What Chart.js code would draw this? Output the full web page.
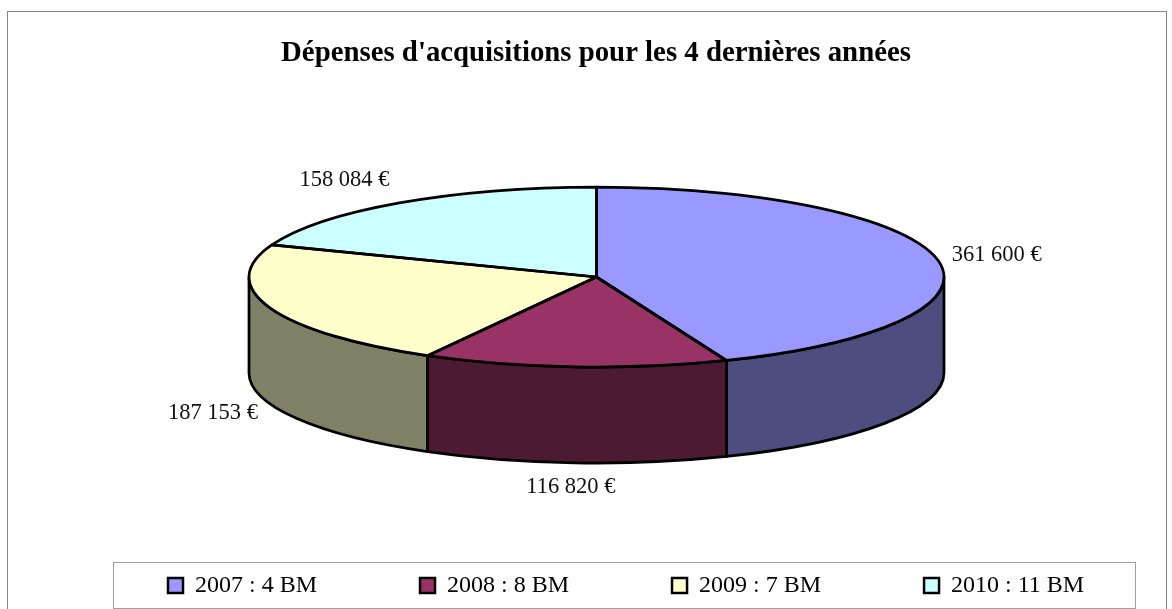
<!DOCTYPE html>
<html>
<head>
<meta charset="utf-8">
<title>Dépenses d'acquisitions</title>
<script src="https://cdn.jsdelivr.net/npm/chart.js@4"></script>
<style>
  html, body { margin: 0; padding: 0; background: #fff; }
  canvas { display: block; }
</style>
</head>
<body>
<canvas id="pie3d" width="1172" height="609"></canvas>
<script>
const chartTitle = "Dépenses d'acquisitions pour les 4 dernières années";
const categories = ["2007 : 4 BM", "2008 : 8 BM", "2009 : 7 BM", "2010 : 11 BM"];
const amounts = [361600, 116820, 187153, 158084];
const topColors = ["#9999FF", "#993366", "#FFFFCC", "#CCFFFF"];
const sideColors = ["#4D4D80", "#4D1A33", "#808066", "#668080"];
// label centre relative to the middle of the slice rim
const labelOffsets = [[59, -5], [-4, 24], [-57, 9], [-55, -23]];

const SERIF = "'Liberation Serif', serif";
const cx = 596.5, cy = 277, rx = 347.5, ry = 90, depth = 96;

const fmt = v => String(v).replace(/\B(?=(\d{3})+$)/g, " ") + " €";

const pie3d = {
  id: "pie3d",
  afterLayout(chart) {
    // the big padding only spreads the legend items, put the row in its box
    const lg = chart.legend, pad = lg.options.labels.padding;
    lg.left = 168 - pad;
    lg.right = chart.width + 200;
    lg.top = 588 - 14.4 - pad;
    chart.titleBlock.left += 10;
    chart.titleBlock.right += 10;
  },
  beforeDraw(chart) {
    const c = chart.ctx;
    c.save();
    c.fillStyle = "#fff";
    c.fillRect(0, 0, chart.width, chart.height);
    c.strokeStyle = "#868686";
    c.lineWidth = 1;
    c.strokeRect(7.5, 11.5, 1159, 640);
    c.strokeStyle = "#a0a0a0";
    c.strokeRect(113.5, 562.5, 1022, 46);
    c.restore();
  },
  beforeDatasetsDraw(chart) {
    // side wall, only the front half of the pie shows it
    const c = chart.ctx;
    c.save();
    c.lineWidth = 2.75;
    c.lineJoin = "round";
    c.strokeStyle = "#000";
    chart.getDatasetMeta(0).data.forEach((arc, i) => {
      const a0 = Math.max(arc.startAngle, 0), a1 = Math.min(arc.endAngle, Math.PI);
      if (a1 <= a0) return;
      c.beginPath();
      c.ellipse(cx, cy, rx, ry, 0, a0, a1);
      c.ellipse(cx, cy + depth, rx, ry, 0, a1, a0, true);
      c.closePath();
      c.fillStyle = sideColors[i];
      c.fill();
      c.stroke();
    });
    c.restore();
  },
  beforeDatasetDraw(chart) {
    // flatten the library's circle into the ellipse of the top face
    const c = chart.ctx, arc = chart.getDatasetMeta(0).data[0];
    c.save();
    c.translate(cx, cy);
    c.scale(rx / arc.outerRadius, ry / arc.outerRadius);
    c.translate(-arc.x, -arc.y);
  },
  afterDatasetDraw(chart) {
    const c = chart.ctx;
    c.restore();
    c.save();
    c.lineWidth = 2.75;
    c.lineJoin = "round";
    c.strokeStyle = "#000";
    chart.getDatasetMeta(0).data.forEach(arc => {
      c.beginPath();
      c.moveTo(cx, cy);
      c.ellipse(cx, cy, rx, ry, 0, arc.startAngle, arc.endAngle);
      c.closePath();
      c.stroke();
    });
    // value labels
    c.fillStyle = "#111";
    c.font = "22.5px " + SERIF;
    c.textAlign = "center";
    c.textBaseline = "middle";
    chart.getDatasetMeta(0).data.forEach((arc, i) => {
      const mid = (arc.startAngle + arc.endAngle) / 2;
      const sin = Math.sin(mid);
      const x = cx + rx * Math.cos(mid) + labelOffsets[i][0];
      const y = cy + ry * sin + (sin > 0 ? depth : 0) + labelOffsets[i][1];
      c.fillText(fmt(amounts[i]), x, y);
    });
    c.restore();
  }
};

new Chart(document.getElementById("pie3d"), {
  type: "pie",
  data: {
    labels: categories,
    datasets: [{
      data: amounts,
      backgroundColor: topColors,
      borderWidth: 0,
      clip: false
    }]
  },
  options: {
    responsive: false,
    animation: false,
    events: [],
    plugins: {
      tooltip: { enabled: false },
      title: {
        display: true,
        text: chartTitle,
        color: "#000",
        font: { family: SERIF, size: 28.8, weight: "bold", lineHeight: 1.2 },
        padding: { top: 36, bottom: 10 }
      },
      legend: {
        position: "bottom",
        align: "start",
        labels: {
          color: "#111",
          font: { family: SERIF, size: 24, lineHeight: 1.2 },
          boxWidth: 15,
          boxHeight: 15,
          padding: 103,
          generateLabels: () => categories.map((name, i) => ({
            text: name,
            fillStyle: topColors[i],
            strokeStyle: "#000",
            lineWidth: 2.5,
            index: i
          }))
        }
      }
    }
  },
  plugins: [pie3d]
});
</script>
</body>
</html>
